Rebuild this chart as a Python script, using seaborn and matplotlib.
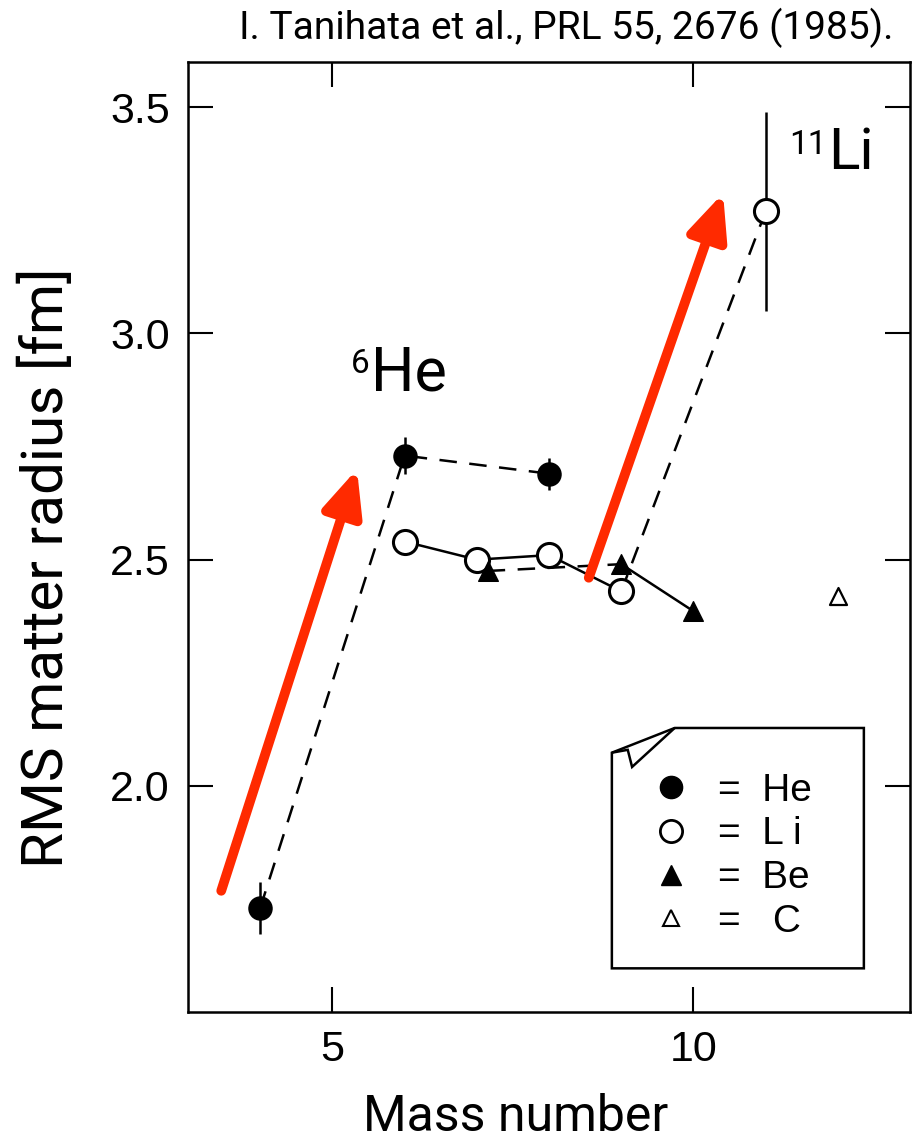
import matplotlib
matplotlib.use('Agg')
import matplotlib.pyplot as plt
import seaborn as sns
import pandas as pd
from matplotlib.lines import Line2D
from matplotlib.patches import Polygon

sns.set_style('ticks')
plt.rcParams['font.family'] = ['Liberation Sans', 'DejaVu Sans']
plt.rcParams.update({'text.color': 'black', 'axes.labelcolor': 'black',
                     'xtick.color': 'black', 'ytick.color': 'black',
                     'axes.edgecolor': 'black'})

# values (mass number, rms matter radius in fm)
he_mass = [4, 6, 8]
he_radius = [1.73, 2.73, 2.69]
he_err = [0.057, 0.04, 0.035]

li_mass = [6, 7, 8, 9, 11]
li_radius = [2.54, 2.50, 2.51, 2.43, 3.27]
li_err = [0, 0, 0, 0, 0.22]

be_mass = [7.15, 9, 10]
be_radius = [2.475, 2.49, 2.386]

c_mass = [12]
c_radius = [2.42]

# red arrows: (start mass, start radius, end mass, end radius)
arrow_starts = [(3.46, 1.768), (8.55, 2.46)]
arrow_ends = [(5.34, 2.70), (10.41, 3.31)]

he = pd.DataFrame({'A': he_mass, 'r': he_radius, 'err': he_err})
li = pd.DataFrame({'A': li_mass, 'r': li_radius, 'err': li_err})
be = pd.DataFrame({'A': be_mass, 'r': be_radius})
c = pd.DataFrame({'A': c_mass, 'r': c_radius})

fig = plt.figure(figsize=(9.23, 11.42), dpi=100)
ax = fig.add_axes([0.2037, 0.1138, 0.7823, 0.8319])

lw = 1.8
dash = (7, 5)

# connecting lines
sns.lineplot(data=he, x='A', y='r', sort=False, color='black', lw=lw, ax=ax, zorder=2)
ax.lines[-1].set_dashes(dash)
sns.lineplot(data=li.iloc[:4], x='A', y='r', sort=False, color='black', lw=lw, ax=ax, zorder=2)
sns.lineplot(data=li.iloc[3:], x='A', y='r', sort=False, color='black', lw=lw, ax=ax, zorder=2)
ax.lines[-1].set_dashes(dash)
sns.lineplot(data=be.iloc[:2], x='A', y='r', sort=False, color='black', lw=lw, ax=ax, zorder=2)
ax.lines[-1].set_dashes(dash)
sns.lineplot(data=be.iloc[1:], x='A', y='r', sort=False, color='black', lw=lw, ax=ax, zorder=2)

# error bars
ax.errorbar(he['A'], he['r'], yerr=he['err'], fmt='none', ecolor='black', elinewidth=lw, zorder=3)
li_e = li[li['err'] > 0]
ax.errorbar(li_e['A'], li_e['r'], yerr=li_e['err'], fmt='none', ecolor='black', elinewidth=lw, zorder=3)

# markers
sns.scatterplot(data=he, x='A', y='r', marker='o', s=260, color='black', edgecolor='black',
                linewidth=1.5, ax=ax, zorder=4)
sns.scatterplot(data=li, x='A', y='r', marker='o', s=300, color='white', edgecolor='black',
                linewidth=2.2, ax=ax, zorder=4)
sns.scatterplot(data=be, x='A', y='r', marker='^', s=200, color='black', edgecolor='black',
                linewidth=1.0, ax=ax, zorder=4)
sns.scatterplot(data=c, x='A', y='r', marker='^', s=150, color='white', edgecolor='black',
                linewidth=1.6, ax=ax, zorder=4)

# red arrows
for (x0, y0), (x1, y1) in zip(arrow_starts, arrow_ends):
    ax.annotate('', xy=(x1, y1), xytext=(x0, y0),
                arrowprops=dict(arrowstyle='-|>,head_length=1.35,head_width=0.6',
                                mutation_scale=20, color='#ff2a00', lw=7,
                                shrinkA=0, shrinkB=0),
                zorder=5)

# nucleus labels
ax.text(5.51, 2.912, '6', fontsize=24, family='Roboto', ha='right', va='baseline')
ax.text(5.54, 2.874, 'He', fontsize=44, family='Roboto', ha='left', va='baseline')
ax.text(11.85, 3.397, '11', fontsize=24, family='Roboto', ha='right', va='baseline')
ax.text(11.87, 3.364, 'Li', fontsize=42, family='Roboto', ha='left', va='baseline')

ax.set_xlim(3, 13)
ax.set_ylim(1.5, 3.6)
ax.set_xticks([5, 10])
ax.set_yticks([2.0, 2.5, 3.0, 3.5])
ax.set_yticklabels(['2.0', '2.5', '3.0', '3.5'])
ax.tick_params(direction='in', length=18, width=1.5, top=True, right=True,
               labelsize=31, pad=13)
for sp in ax.spines.values():
    sp.set_linewidth(1.8)
    sp.set_visible(True)

ax.set_xlabel('Mass number', fontsize=36, family='Roboto')
ax.set_ylabel('RMS matter radius [fm]', fontsize=42, family='Roboto')
ax.xaxis.set_label_coords(0.454, -0.085)
ax.yaxis.set_label_coords(-0.157, 0.468)

# legend with dog-eared box
box = Polygon([(0.587, 0.273), (0.674, 0.299), (0.936, 0.299), (0.936, 0.046), (0.587, 0.046)],
              closed=True, transform=ax.transAxes, facecolor='white', edgecolor='black',
              lw=1.8, zorder=6)
ax.add_patch(box)
flap = Polygon([(0.587, 0.273), (0.609, 0.276), (0.615, 0.258), (0.674, 0.299)],
               closed=False, transform=ax.transAxes, fill=False, edgecolor='black',
               lw=1.8, zorder=7)
ax.add_patch(flap)

handles = [
    Line2D([], [], marker='o', ls='none', ms=16, mfc='black', mec='black'),
    Line2D([], [], marker='o', ls='none', ms=16, mfc='white', mec='black', mew=2),
    Line2D([], [], marker='^', ls='none', ms=14, mfc='black', mec='black'),
    Line2D([], [], marker='^', ls='none', ms=11, mfc='white', mec='black', mew=1.5),
]
labels = ['=  He', '=  L i', '=  Be', '=   C']
leg = ax.legend(handles, labels, loc='upper left', bbox_to_anchor=(0.642, 0.252),
                frameon=False, fontsize=28, handlelength=1.0, handletextpad=0.7,
                labelspacing=0.2, borderpad=0, borderaxespad=0)
leg.set_zorder(8)

fig.text(0.9675, 0.9755, 'I. Tanihata et al., PRL 55, 2676 (1985).', fontsize=28,
         family='Roboto', ha='right', va='center')

fig.savefig('out.png', dpi=100)
